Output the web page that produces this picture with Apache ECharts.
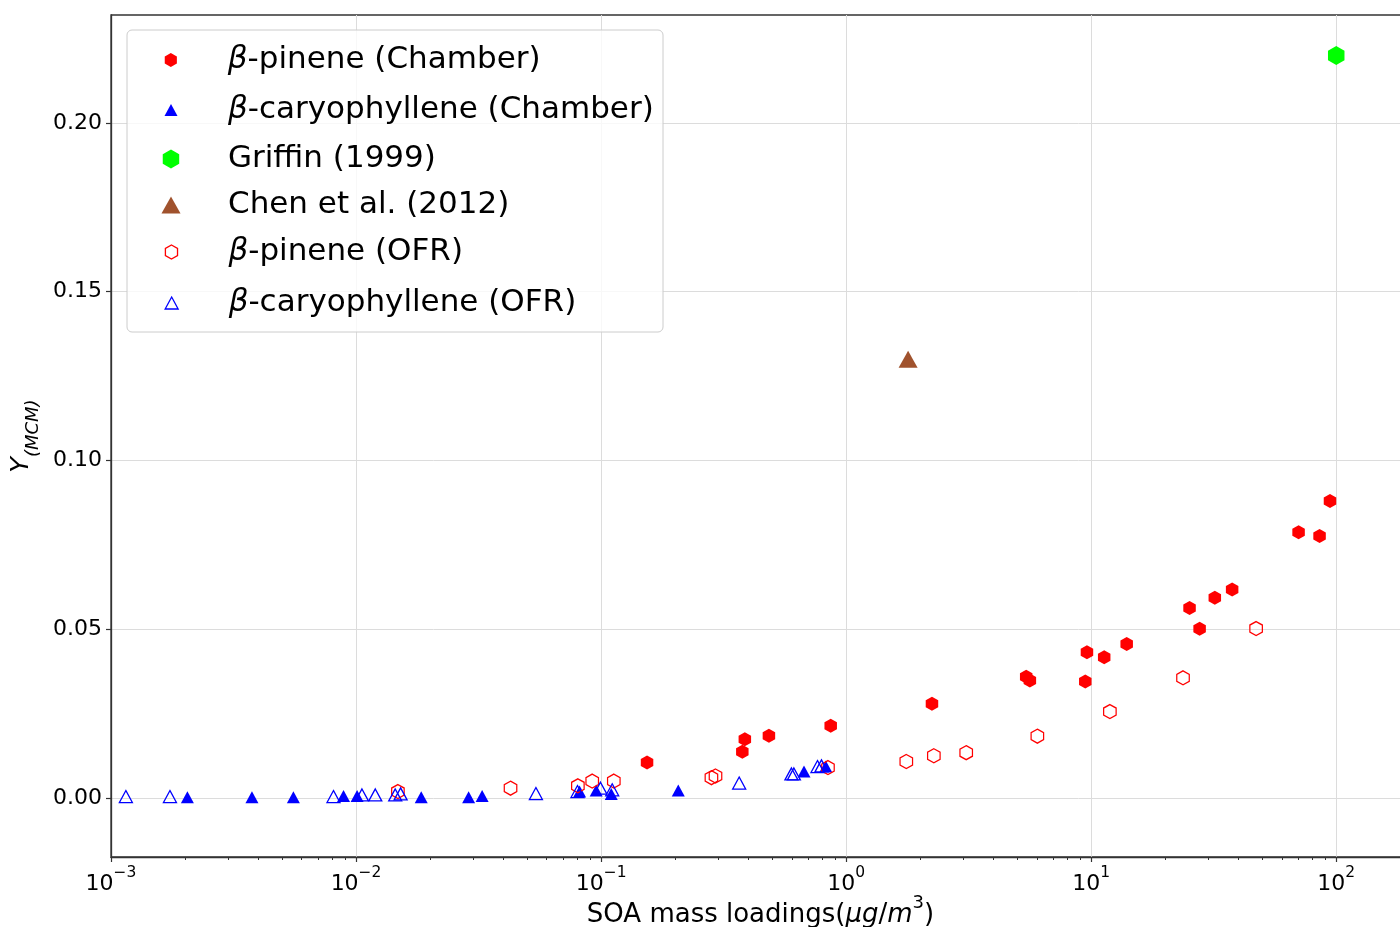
<!DOCTYPE html>
<html>
<head>
<meta charset="utf-8">
<script src="https://cdn.jsdelivr.net/npm/echarts@6/dist/echarts.min.js"></script>
<style>html,body{margin:0;padding:0;background:#fff}#c{width:1400px;height:927px}</style>
</head>
<body>
<div id="c"></div>
<script>
// ---------- data ----------
const xTickValues = [0.001, 0.01, 0.1, 1, 10, 100];
const yTickValues = [0, 0.05, 0.10, 0.15, 0.20];
const seriesNames = ['β-pinene (Chamber)', 'β-caryophyllene (Chamber)', 'Griffin (1999)', 'Chen et al. (2012)', 'β-pinene (OFR)', 'β-caryophyllene (OFR)'];

const bpChamberX = [0.154, 0.377, 0.386, 0.484, 0.865, 2.24, 5.43, 5.62, 9.46, 9.61, 11.3, 13.96, 25.2, 27.7, 31.95, 37.6, 70.2, 85.5, 94.3];
const bpChamberY = [0.0105, 0.0137, 0.0174, 0.0184, 0.0214, 0.0279, 0.0359, 0.0348, 0.0345, 0.0432, 0.0417, 0.0456, 0.0563, 0.0501, 0.0593, 0.0618, 0.0787, 0.0776, 0.0880];

const bcChamberX = [0.00205, 0.00376, 0.00555, 0.00889, 0.0101, 0.01845, 0.0288, 0.0327, 0.0817, 0.0955, 0.110, 0.2065, 0.673, 0.826];
const bcChamberY = [0.0002, 0.0002, 0.0002, 0.0006, 0.0006, 0.0002, 0.0002, 0.0006, 0.0019, 0.0022, 0.0012, 0.0022, 0.0078, 0.0093];

const griffinX = [100];
const griffinY = [0.22];

const chenX = [1.79];
const chenY = [0.13];

const bpOFRX = [0.01482, 0.0427, 0.0804, 0.092, 0.1127, 0.282, 0.293, 0.843, 1.76, 2.28, 3.09, 6.03, 11.92, 23.7, 47.1];
const bpOFRY = [0.0019, 0.0029, 0.0036, 0.0050, 0.0050, 0.0060, 0.0065, 0.0090, 0.0108, 0.0125, 0.0134, 0.0183, 0.0256, 0.0356, 0.0502];

const bcOFRX = [0.00115, 0.00174, 0.00809, 0.01057, 0.01198, 0.01445, 0.0152, 0.0542, 0.0801, 0.0994, 0.111, 0.366, 0.598, 0.612, 0.764, 0.793];
const bcOFRY = [0.0004, 0.0004, 0.0004, 0.0009, 0.0009, 0.0009, 0.0012, 0.0013, 0.0019, 0.0029, 0.0024, 0.0044, 0.0071, 0.0071, 0.0093, 0.0095];

// ---------- styles ----------
const FONT = 'DejaVu Sans';
const HEX = 'path://M0,-1L0.866,-0.5L0.866,0.5L0,1L-0.866,0.5L-0.866,-0.5Z';
const styles = [
  {symbol: HEX, size: [12.5, 14], itemStyle: {color: '#ff0000', opacity: 1}, legendY: 60},
  {symbol: 'triangle', size: [13, 12], itemStyle: {color: '#0000ff', opacity: 1}, legendY: 110},
  {symbol: HEX, size: [16.5, 19], itemStyle: {color: '#00ff00', opacity: 1}, legendY: 159},
  {symbol: 'triangle', size: [19, 17], itemStyle: {color: '#a0522d', opacity: 1}, legendY: 205},
  {symbol: HEX, size: [12.5, 14], itemStyle: {color: 'rgba(0,0,0,0)', borderColor: '#ff0000', borderWidth: 1.3, opacity: 1}, legendY: 252},
  {symbol: 'triangle', size: [13, 12], itemStyle: {color: 'rgba(0,0,0,0)', borderColor: '#0000ff', borderWidth: 1.3, opacity: 1}, legendY: 303}
];
const seriesXY = [[bpChamberX, bpChamberY], [bcChamberX, bcChamberY], [griffinX, griffinY], [chenX, chenY], [bpOFRX, bpOFRY], [bcOFRX, bcOFRY]];

const minorTicks = [];
for (let e = -3; e <= 2; e++) for (let m = 2; m <= 9; m++) { const v = m * Math.pow(10, e); if (v < 200) minorTicks.push(+v.toPrecision(3)); }

const AX = '#333';
const chart = echarts.init(document.getElementById('c'), null, {renderer: 'canvas'});

const series = seriesNames.map((name, k) => ({
  name: name,
  type: 'scatter',
  symbol: styles[k].symbol,
  symbolSize: styles[k].size,
  symbolKeepAspect: false,
  itemStyle: styles[k].itemStyle,
  emphasis: {disabled: true},
  z: 2 + k * 0.01,
  data: seriesXY[k][0].map((x, i) => [x, seriesXY[k][1][i]])
}));

const legends = seriesNames.map((name, k) => {
  const st = styles[k];
  const w = st.size[0], h = st.size[1];
  const gapW = 228 - (171 + w / 2 + 5);
  return {
    data: [{name: name, icon: st.symbol, itemStyle: st.itemStyle}],
    orient: 'vertical',
    left: 171 - w / 2,
    top: st.legendY - 20,
    padding: 0,
    itemWidth: w,
    itemHeight: h,
    selectedMode: false,
    formatter: function (n) {
      if (n.charAt(0) === 'β') return '{g| }{i|β}{r|' + n.slice(1) + '}';
      return '{g| }{r|' + n + '}';
    },
    textStyle: {
      color: '#000', fontFamily: FONT, fontSize: 31, lineHeight: 40,
      rich: {
        g: {width: gapW, fontSize: 31, lineHeight: 40},
        i: {fontFamily: FONT, fontStyle: 'italic', fontSize: 31, lineHeight: 40, color: '#000'},
        r: {fontFamily: FONT, fontSize: 31, lineHeight: 40, color: '#000'}
      }
    }
  };
});

const option = {
  animation: false,
  backgroundColor: '#fff',
  grid: {left: 111, top: 15, width: 1299, height: 842, outerBoundsMode: 'none', containLabel: false,
         show: true, borderColor: AX, borderWidth: 1.3, backgroundColor: 'transparent'},
  xAxis: [{
    type: 'log', logBase: 10, min: 0.001, max: 200,
    name: '{r|SOA mass loadings(}{i|μg}{r|/}{i|m}{s|3}{r|)}',
    nameLocation: 'middle', nameGap: 37, nameMoveOverlap: false,
    nameTextStyle: {
      rich: {
        r: {fontFamily: FONT, fontSize: 26, lineHeight: 34, verticalAlign: 'bottom', color: '#000'},
        i: {fontFamily: FONT, fontStyle: 'italic', fontSize: 26, lineHeight: 34, verticalAlign: 'bottom', color: '#000'},
        s: {fontFamily: FONT, fontSize: 18, lineHeight: 20, verticalAlign: 'top', color: '#000'}
      }
    },
    axisLine: {onZero: false, lineStyle: {color: AX, width: 1.3}},
    axisTick: {show: true, length: 5, customValues: xTickValues, lineStyle: {color: AX, width: 1.2}},
    axisLabel: {
      customValues: xTickValues, margin: 8,
      formatter: function (v) {
        const e = Math.round(Math.log10(v));
        return '{b|10}{s|' + (e < 0 ? '\u2212' + (-e) : e) + '}';
      },
      rich: {
        b: {fontFamily: FONT, fontSize: 22, lineHeight: 30, verticalAlign: 'bottom', color: '#000'},
        s: {fontFamily: FONT, fontSize: 15.5, lineHeight: 16, verticalAlign: 'top', color: '#000'}
      }
    },
    splitLine: {show: true, lineStyle: {color: '#dcdcdc', width: 1}},
    minorTick: {show: false}
  }, {
    type: 'log', logBase: 10, min: 0.001, max: 200, gridIndex: 0, position: 'bottom',
    axisLine: {show: false, onZero: false},
    axisTick: {show: true, length: 3, customValues: minorTicks, lineStyle: {color: AX, width: 1}},
    axisLabel: {show: false},
    splitLine: {show: false}
  }],
  yAxis: {
    type: 'value', min: -0.0175, max: 0.232,
    name: '{y|Y}{s|(MCM)}',
    nameLocation: 'middle', nameRotate: 90, nameGap: 69, nameMoveOverlap: false,
    nameTextStyle: {
      rich: {
        y: {fontFamily: FONT, fontStyle: 'italic', fontSize: 25.5, lineHeight: 34, verticalAlign: 'top', color: '#000'},
        s: {fontFamily: FONT, fontStyle: 'italic', fontSize: 18, lineHeight: 14, verticalAlign: 'bottom', color: '#000'}
      }
    },
    axisLine: {show: true, onZero: false, lineStyle: {color: AX, width: 1.3}},
    axisTick: {show: true, length: 5, customValues: yTickValues, lineStyle: {color: AX, width: 1.2}},
    axisLabel: {
      customValues: yTickValues, margin: 9,
      fontFamily: FONT, fontSize: 22, color: '#000',
      formatter: function (v) { return v.toFixed(2); }
    },
    splitLine: {show: true, lineStyle: {color: '#dcdcdc', width: 1}}
  },
  legend: legends,
  graphic: [{
    type: 'rect', z: 3,
    shape: {x: 127, y: 30, width: 536, height: 302, r: 5},
    style: {fill: 'rgba(255,255,255,0.8)', stroke: '#cccccc', lineWidth: 1}
  }],
  series: series
};
chart.setOption(option);
</script>
</body>
</html>
